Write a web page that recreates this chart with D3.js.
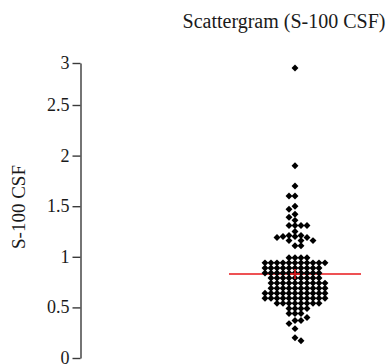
<!DOCTYPE html>
<html>
<head>
	<meta charset="UTF-8" />
	<title>Scattergram S-100 CSF</title>
	<script src="https://d3js.org/d3.v7.min.js"></script>
	<style>
		body { margin: 0; background: #fff; }
	</style>
</head>
<body>
	<svg id="chart" style="width:390px; height:364px; display:block"></svg>

	<script type="text/javascript">
	// data
	var titleText = "Scattergram (S-100 CSF)"
	var axisTitle = "S-100 CSF"
	var yTicks = [0, 0.5, 1, 1.5, 2, 2.5, 3]
	var yTickLabels = ["0", "0.5", "1", "1.5", "2", "2.5", "3"]
	var meanValue = 0.83
	var serif = "Liberation Serif"

	// upper tail
	var highValues = [2.94, 1.90, 1.70, 1.60, 1.60, 1.50, 1.47, 1.42, 1.39, 1.36,
		1.31, 1.31, 1.31, 1.31, 1.25, 1.21, 1.21, 1.20, 1.20, 1.19, 1.19,
		1.16, 1.16, 1.16, 1.11, 1.11]
	// main body
	var bodyValues = [0.99, 0.99, 0.99, 0.99,
		0.94, 0.94, 0.94, 0.94, 0.94, 0.94, 0.94, 0.94, 0.94, 0.94, 0.94,
		0.89, 0.89, 0.89, 0.89, 0.89, 0.89, 0.89, 0.89, 0.89, 0.89,
		0.84, 0.84, 0.84, 0.84, 0.84, 0.84, 0.84, 0.84, 0.84, 0.84,
		0.79, 0.79, 0.79, 0.79, 0.79, 0.79, 0.79, 0.79, 0.79,
		0.74, 0.74, 0.74, 0.74, 0.74, 0.74, 0.74, 0.74, 0.74, 0.74,
		0.69, 0.69, 0.69, 0.69, 0.69, 0.69, 0.69, 0.69, 0.69, 0.69,
		0.64, 0.64, 0.64, 0.64, 0.64, 0.64, 0.64, 0.64, 0.64, 0.64, 0.64,
		0.59, 0.59, 0.59, 0.59, 0.59, 0.59, 0.59, 0.59, 0.59, 0.59, 0.59,
		0.54, 0.54, 0.54, 0.54, 0.54, 0.54, 0.54, 0.54]
	// lower tail
	var lowValues = [0.49, 0.49, 0.49, 0.49, 0.44, 0.44, 0.44, 0.40,
		0.37, 0.37, 0.34, 0.29, 0.20, 0.17]

	var values = highValues.concat(bodyValues, lowValues)

	var svg = d3.select("#chart")

	//scale
	var yScale = d3.scaleLinear().domain([0, 2.5, 3]).range([358, 105, 63])
	var xScale = d3.scaleLinear().domain([-1, 1]).range([229, 361])

	//axis
	var yAxis = d3.axisLeft(yScale)
		.tickValues(yTicks)
		.tickFormat((d, i) => yTickLabels[i])
		.tickSize(8)
		.tickSizeOuter(0)
		.tickPadding(3)

	var yAxisG = svg.append("g").attr("transform", "translate(80.5,0)").call(yAxis)
	yAxisG.attr("font-family", serif).attr("font-size", 18)
	yAxisG.select(".domain").attr("stroke", "#3a3a3a").attr("stroke-width", 1.4)
	yAxisG.selectAll(".tick line").attr("stroke", "#3a3a3a").attr("stroke-width", 1.4)
	yAxisG.selectAll(".tick text")
		.attr("font-family", serif)
		.attr("fill", "#1a1a1a")
		.attr("dy", "0.3em")

	svg.append("text")
		.attr("transform", "translate(25,207) rotate(-90)")
		.attr("text-anchor", "middle")
		.attr("font-family", serif)
		.attr("font-size", 19)
		.attr("fill", "#1a1a1a")
		.text(axisTitle)

	svg.append("text")
		.attr("x", 284).attr("y", 28)
		.attr("text-anchor", "middle")
		.attr("font-family", serif)
		.attr("font-size", 20)
		.attr("fill", "#1a1a1a")
		.text(titleText)

	// mean line (behind points)
	svg.append("line")
		.attr("x1", xScale(-1)).attr("x2", xScale(1))
		.attr("y1", yScale(meanValue)).attr("y2", yScale(meanValue))
		.attr("stroke", "#e8171b").attr("stroke-width", 1.5)

	// row-wise swarm: points on nearly the same level get pushed sideways
	var DX = 5.8, DY = 4.5
	var placed = []
	var pts = values.map(v => ({ v: v, py: yScale(v) })).sort((a, b) => b.v - a.v)
	pts.forEach((p, n) => {
		var found = null
		for (var k = 0; k < 400 && found === null; k++) {
			var s = k * 0.5
			var cands = k === 0 ? [0] : (n % 2 ? [s, -s] : [-s, s])
			for (var c of cands) {
				var ok = placed.every(q => Math.abs(q.py - p.py) >= DY || Math.abs(q.dx - c) >= DX - 0.01)
				if (ok) { found = c; break }
			}
		}
		p.dx = found
		placed.push(p)
	})

	var diamond = d3.symbol().type(d3.symbolSquare).size(24)
	svg.append("g").selectAll("path")
		.data(pts)
		.join("path")
		.attr("d", diamond)
		.attr("transform", d => `translate(${xScale(0) + d.dx},${d.py}) rotate(45)`)
		.attr("fill", "#000")

	// mean marker
	var mx = xScale(0), my = yScale(meanValue)
	svg.append("path")
		.attr("d", `M${mx - 5},${my}H${mx + 5}M${mx},${my - 5}V${my + 5}`)
		.attr("stroke", "#e8171b").attr("stroke-width", 1.5)
	</script>
</body>
</html>
